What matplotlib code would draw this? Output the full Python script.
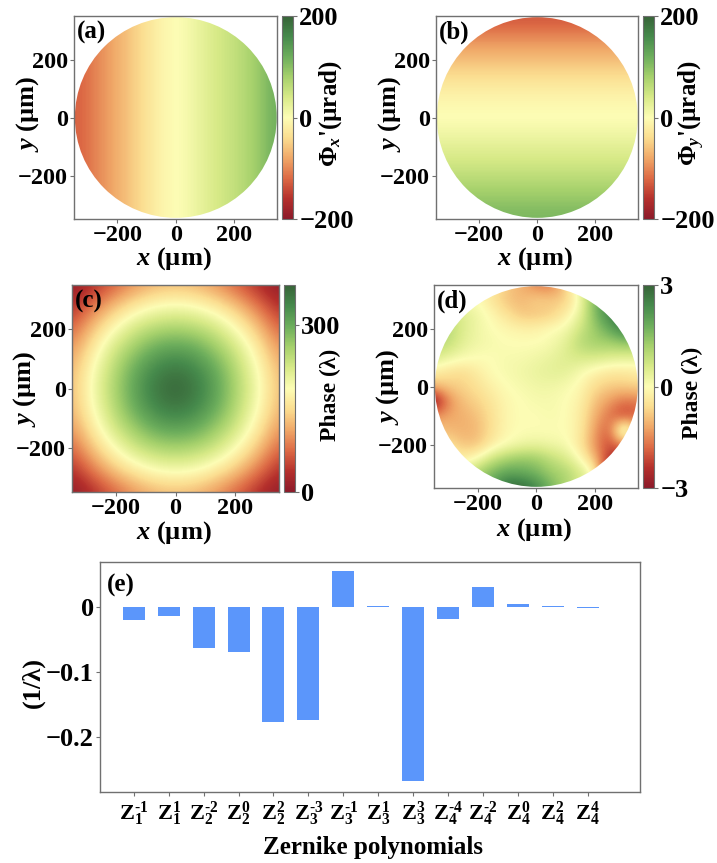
"""Phase gradient maps, reconstructed phase and Zernike coefficients."""
import numpy as np
import matplotlib
matplotlib.use("Agg")
import matplotlib.pyplot as plt
from matplotlib.colors import LinearSegmentedColormap
from matplotlib.patches import Circle

W, H = 717, 863

plt.rcParams.update({
    "font.family": ["Liberation Serif", "DejaVu Serif"],
    "font.weight": "bold",
    "font.size": 19,
    "mathtext.fontset": "custom",
    "mathtext.rm": "Liberation Serif:bold",
    "mathtext.it": "Liberation Serif:italic:bold",
    "mathtext.bf": "Liberation Serif:bold",
    "axes.labelweight": "bold",
})

CMAP_COLORS = ["#8c1a2a", "#b5302c", "#dd6a45", "#f0a868", "#fbdd90", "#fdfdb5",
               "#d8ea88", "#a6d16c", "#6dae5c", "#468a4c", "#376338"]
SPINE = "#707070"

# (a) gradient along x, left edge to right edge (urad)
phi_x = [-125, -108, -92, -76, -60, -42, -25, -8, -1, 8, 22, 35, 47, 58, 72, 90, 115]
# (b) gradient along y, top edge to bottom edge (urad)
phi_y = [-128, -105, -85, -65, -48, -30, -15, -5, 0, 10, 22, 35, 48, 62, 78, 92, 108]

# (c) phase, one quarter of the map, centre at the lower left (waves)
phase_quarter = [
    [125, 118, 98, 67, 33, 5],
    [192, 185, 160, 125, 80, 33],
    [252, 243, 222, 178, 125, 67],
    [308, 298, 262, 222, 160, 98],
    [350, 335, 298, 243, 185, 118],
    [370, 350, 308, 252, 192, 125],
]

# (d) residual phase, x = -350..350, y = 350..-350, steps of 50 (waves)
residual = [
    [0, 0, 0, 0, -0.3, -0.8, -1.1, -1.6, -1.7, -0.8, 0.5, 1.2, 1.5, 1.5, 1.5],
    [0, 0, 0, 0, -0.5, -0.9, -1.0, -0.7, -0.8, -0.8, 0.1, 1.7, 2.3, 2.6, 2.6],
    [0.8, 0.8, 0.5, 0.2, -0.1, -0.5, -0.9, -0.9, -0.8, -0.3, 0.3, 1.6, 2.5, 3.0, 3.0],
    [1.1, 1.0, 0.5, 0.2, 0, -0.1, -0.2, -0.2, 0, 0.1, 0.7, 1.3, 1.9, 2.6, 2.6],
    [1.0, 0.9, 0.4, 0.2, 0.1, 0, 0, 0, 0.1, 0.4, 1.0, 1.2, 1.2, 1.4, 1.4],
    [0.6, 0.3, 0.1, 0, 0, 0.1, 0.1, 0.2, 0.3, 0.5, 0.6, 0.6, 0.5, 0.4, 0.4],
    [-0.3, -0.5, -0.6, -0.3, 0, 0.1, 0.2, 0.3, 0.4, 0.4, 0.1, -0.2, -0.4, -0.4, -0.3],
    [-1.0, -0.8, -0.7, -0.5, -0.2, 0, 0.1, 0.2, 0.2, 0.1, -0.1, -0.6, -0.8, -0.8, -0.7],
    [-3.2, -1.5, -0.9, -0.7, -0.4, -0.1, 0, 0.1, 0.1, 0, -0.2, -0.9, -1.3, -1.7, -1.6],
    [-1.4, -1.2, -1.1, -0.9, -0.5, -0.1, 0, 0, 0.1, 0, -0.3, -1.1, -1.7, -2.3, -1.9],
    [-0.9, -1.0, -1.1, -1.0, -0.5, -0.1, 0, 0, 0, 0, -0.3, -1.3, -2.0, 1.2, -1.4],
    [-0.4, -0.5, -0.9, -0.9, -0.3, 0, 0.2, 0.3, 0.2, 0.1, -0.4, -1.4, -2.2, -1.4, -1.8],
    [0, 0, -0.3, 0.1, 0.8, 1.2, 1.4, 1.3, 0.9, 0.6, 0, -1.0, -2.4, -3.0, -2.2],
    [0.6, 0.6, 0.6, 1.2, 1.7, 2.0, 1.9, 1.7, 1.3, 1.1, 0.7, 0, -3.4, -2.4, -2.2],
    [0.6, 0.6, 0.6, 1.4, 2.0, 3.0, 3.0, 2.5, 1.7, 1.1, 0.5, 0, -2.2, -2.2, -2.2],
]

# (e) Zernike coefficients
zernike_labels = [r"$\mathrm{Z}_{1}^{\text{-}1}$", r"$\mathrm{Z}_{1}^{1}$",
                  r"$\mathrm{Z}_{2}^{\text{-}2}$", r"$\mathrm{Z}_{2}^{0}$",
                  r"$\mathrm{Z}_{2}^{2}$", r"$\mathrm{Z}_{3}^{\text{-}3}$",
                  r"$\mathrm{Z}_{3}^{\text{-}1}$", r"$\mathrm{Z}_{3}^{1}$",
                  r"$\mathrm{Z}_{3}^{3}$", r"$\mathrm{Z}_{4}^{\text{-}4}$",
                  r"$\mathrm{Z}_{4}^{\text{-}2}$", r"$\mathrm{Z}_{4}^{0}$",
                  r"$\mathrm{Z}_{4}^{2}$", r"$\mathrm{Z}_{4}^{4}$"]
zernike_values = [-0.021, -0.014, -0.064, -0.070, -0.178, -0.174, 0.055,
                  0.0015, -0.268, -0.019, 0.030, 0.005, 0.0015, -0.0015]

cmap = LinearSegmentedColormap.from_list("phase", CMAP_COLORS)


def px_axes(fig, left, top, right, bottom):
    return fig.add_axes([left / W, 1 - bottom / H, (right - left) / W, (bottom - top) / H])


def style_axes(ax, size=17.5):
    for s in ax.spines.values():
        s.set_color(SPINE)
        s.set_linewidth(1.0)
    ax.tick_params(length=3, width=0.8, color=SPINE, labelsize=size, pad=1.5)


def panel(fig, box, cbox, data, vmin, vmax, ticks, tick_labels, cb_label, cb_size, letter,
          extent, ylabel_px, xlabel_py, cblabel_px, cb_y=0.47, y_y=0.5,
          lim=(-349, 347), circle=True):
    left, top, right, bottom = box
    ax = px_axes(fig, *box)
    im = ax.imshow(data, cmap=cmap, vmin=vmin, vmax=vmax, extent=extent,
                   interpolation="bicubic", aspect="auto")
    if circle:
        im.set_clip_path(Circle((0, 0), 346, transform=ax.transData))
    ax.set_xlim(*lim)
    ax.set_ylim(-350, 350)
    ax.set_xticks([-200, 0, 200], ["\u2212200", "0", "200"])
    ax.set_yticks([-200, 0, 200], ["\u2212200", "0", "200"])
    ax.set_xlabel(r"$x$ (µm)", fontsize=19, va="center")
    ax.xaxis.set_label_coords(0.49, (bottom - xlabel_py) / (bottom - top))
    ax.set_ylabel(r"$y$ (µm)", fontsize=19, va="center")
    ax.yaxis.set_label_coords((ylabel_px - left) / (right - left), y_y)
    style_axes(ax)
    ax.text(0.015, 0.975, letter, transform=ax.transAxes, fontsize=18,
            va="top", ha="left")
    cax = px_axes(fig, *cbox)
    cb = fig.colorbar(im, cax=cax)
    cb.set_ticks(ticks, labels=tick_labels)
    cb.outline.set_edgecolor(SPINE)
    cb.outline.set_linewidth(0.8)
    cax.tick_params(length=3, width=0.8, color=SPINE, labelsize=19, pad=1.5)
    cb.set_label(cb_label, fontsize=cb_size, va="center")
    cax.yaxis.set_label_coords((cblabel_px - cbox[0]) / (cbox[2] - cbox[0]), cb_y)
    return ax


fig = plt.figure(figsize=(W / 100, H / 100), dpi=100)

grad_ticks = [-200, 0, 200]
grad_labels = ["\u2212200", "0", "200"]
panel(fig, (74, 16, 277, 219), (282, 16, 293, 219), np.array([phi_x]), -200, 200,
      grad_ticks, grad_labels, r"$\mathrm{\Phi}_{x}$'(µrad)", 18, "(a)",
      (-350, 350, -350, 350), 28, 259, 331, cb_y=0.52, y_y=0.52)
panel(fig, (436, 16, 638, 219), (643, 16, 654, 219), np.array(phi_y).reshape(-1, 1), -200, 200,
      grad_ticks, grad_labels, r"$\mathrm{\Phi}_{y}$'(µrad)", 18, "(b)",
      (-350, 350, -350, 350), 390, 259, 692, cb_y=0.52, y_y=0.52)

quarter = np.array(phase_quarter)
right_half = np.vstack([quarter, quarter[-2::-1]])
phase_map = np.hstack([right_half[:, :0:-1], right_half])
panel(fig, (72, 285, 279, 492), (284, 285, 295, 492), phase_map, 0, 371,
      [0, 300], ["0", "300"], "Phase (λ)", 17, "(c)", (-385, 385, -385, 385),
      25, 533, 330, lim=(-349, 349), circle=False)
panel(fig, (434, 285, 638, 488), (643, 285, 654, 488), np.array(residual), -3, 3,
      [-3, 0, 3], ["\u22123", "0", "3"], "Phase (λ)", 17, "(d)", (-375, 375, -375, 375),
      388, 530, 692)

ax_e = px_axes(fig, 100, 562, 640, 792)
positions = np.arange(len(zernike_values))
ax_e.bar(positions, zernike_values, width=0.63, color="#5b96fb")
ax_e.set_xlim(-0.97, 14.5)
ax_e.set_ylim(-0.285, 0.069)
ax_e.set_xticks(positions, zernike_labels)
ax_e.set_yticks([-0.2, -0.1, 0], ["\u22120.2", "\u22120.1", "0"])
ax_e.set_xlabel("Zernike polynomials", fontsize=18, va="center")
ax_e.xaxis.set_label_coords(0.505, (792 - 847) / (792 - 562))
ax_e.set_ylabel("(1/λ)", fontsize=19, va="center")
ax_e.yaxis.set_label_coords((33 - 100) / (640 - 100), 0.478)
style_axes(ax_e)
ax_e.tick_params(axis="x", labelsize=16, pad=2)
ax_e.tick_params(axis="y", labelsize=19)
ax_e.text(0.012, 0.95, "(e)", transform=ax_e.transAxes, fontsize=18, va="top", ha="left")

fig.savefig("out.png", dpi=100)
